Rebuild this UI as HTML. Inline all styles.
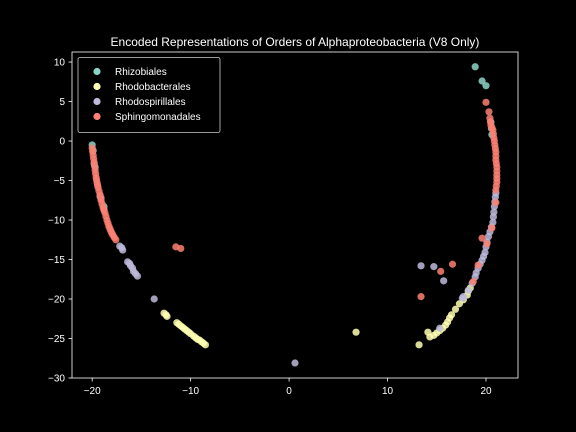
<!DOCTYPE html>
<html><head><meta charset="utf-8"><style>
body{margin:0;background:#000;}
svg{display:block;font-family:"Liberation Sans",sans-serif;}
</style></head><body>
<svg id="chart" width="576" height="432">
<rect width="576" height="432" fill="#000"/>
<text x="295" y="46" fill="#fff" font-size="12" text-anchor="middle">Encoded Representations of Orders of Alphaproteobacteria (V8 Only)</text>
<g id="marks"></g>
<rect x="72" y="52" width="446" height="326" fill="none" stroke="#fff" stroke-width="0.8"/>
<g id="axes"></g>
<g id="legend"></g>
</svg>
<script>
const xTicks=[-20,-10,0,10,20];
const yTicks=[10,5,0,-5,-10,-15,-20,-25,-30];
const seriesNames=["Rhizobiales","Rhodobacterales","Rhodospirillales","Sphingomonadales"];
const seriesColors=["#8dd3c7","#ffffb3","#bebada","#fb8072"];
const rhizoX=[-20,-19.9,-19.8,-19.7,-19.2,-18.8,18.9,19.6,20,20.5,20.6,20.55];
const rhizoY=[-0.5,-1.2,-2.9,-3.3,-7.0,-8.3,9.4,7.6,7.0,2.4,0.8,1.6];
const rhodobX=[-12.7,-12.5,-12.4,-11.4,-11.2,-11,-10.8,-10.6,-10.4,-10.2,-10.0,-9.7,-9.5,-9.3,-9.1,-8.9,-8.7,-8.5,6.8,18.4,18.2,18.1,17.7,17.3,16.9,16.5,16.3,16.1,15.9,15.6,15.3,15,14.7,14.3,14.1,13.2];
const rhodobY=[-21.8,-22.0,-22.2,-23.0,-23.2,-23.4,-23.6,-23.8,-24.0,-24.2,-24.4,-24.7,-24.9,-25.1,-25.2,-25.4,-25.6,-25.8,-24.2,-18.6,-19.0,-19.5,-20.1,-20.6,-21.3,-22,-22.4,-22.9,-23.3,-23.7,-24.0,-24.3,-24.6,-24.8,-24.2,-25.8];
const rhodosX=[-19.1,-18.8,-17.2,-17.0,-16.9,-16.4,-16.2,-16.1,-15.9,-15.8,-15.6,-15.4,-13.7,0.6,21,20.95,20.9,20.85,20.8,20.75,20.7,20.55,20.4,20.25,20.1,20.0,19.9,19.75,19.6,19.4,19.2,19.0,18.9,18.6,18.2,17.7,17.6,13.4,14.7,15.7,15.3];
const rhodosY=[-7.2,-8.7,-13.3,-13.5,-13.8,-15.3,-15.5,-15.8,-16.1,-16.5,-16.8,-17.1,-20,-28.1,-6.6,-7.1,-7.7,-8.3,-9,-9.6,-10.3,-10.9,-11.5,-12.1,-12.8,-13.4,-14.1,-14.6,-15.1,-15.6,-16.1,-16.7,-17.2,-18,-18.9,-19.7,-19.9,-15.8,-15.9,-17.7,-23.7];
const sphX=[-20.0,-19.95,-19.9,-19.85,-19.8,-19.75,-19.7,-19.65,-19.6,-19.55,-19.5,-19.45,-19.4,-19.3,-19.2,-19.15,-19.1,-19.0,-18.9,-18.8,-18.7,-18.6,-18.5,-18.4,-18.3,-18.2,-18.1,-18.0,-17.9,-17.75,-17.6,-11.5,-11,20,20.3,20.4,20.45,20.5,20.6,20.7,20.75,20.8,20.85,20.9,20.95,21,21,21,21.05,21.1,21.1,21.1,21.1,21.1,21.05,21,21,20.6,20.1,19.2,18.7,19.6,15.4,16.6,13.4];
const sphY=[-0.9,-1.35,-1.8,-2.25,-2.7,-3.2,-3.7,-4.15,-4.6,-4.95,-5.3,-5.6,-5.9,-6.35,-6.8,-7.15,-7.5,-7.95,-8.4,-8.75,-9.1,-9.55,-10,-10.4,-10.8,-11.1,-11.4,-11.65,-11.9,-12.2,-12.5,-13.4,-13.6,4.9,3.7,2.9,2.45,2.0,1.7,1.4,0.9,0.4,0,-0.5,-0.95,-1.4,-1.9,-2.4,-2.85,-3.3,-3.8,-4.3,-4.75,-5.2,-5.7,-6.2,-7.8,-11,-13,-15.7,-17.8,-12.3,-16.5,-15.6,-19.7];
const seriesX=[rhizoX,rhodobX,rhodosX,sphX];
const seriesY=[rhizoY,rhodobY,rhodosY,sphY];
const X0=72,X1=518,Y0=378,Y1=52,xmin=-22.05,xmax=23.25,ymin=-30,ymax=11.27;
const sx=v=>X0+(v-xmin)/(xmax-xmin)*(X1-X0);
const sy=v=>Y0-(v-ymin)/(ymax-ymin)*(Y0-Y1);
const NS="http://www.w3.org/2000/svg";
const marks=document.getElementById('marks');
seriesX.forEach((xs,s)=>{xs.forEach((x,i)=>{
 const c=document.createElementNS(NS,'circle');
 c.setAttribute('cx',sx(x));c.setAttribute('cy',sy(seriesY[s][i]));c.setAttribute('r',3.6);
 c.setAttribute('fill',seriesColors[s]);c.setAttribute('fill-opacity',0.85);
 
 
 marks.appendChild(c);});});
const axes=document.getElementById('axes');
xTicks.forEach(t=>{
 const l=document.createElementNS(NS,'line');l.setAttribute('x1',sx(t));l.setAttribute('x2',sx(t));l.setAttribute('y1',378);l.setAttribute('y2',381.5);l.setAttribute('stroke','#fff');l.setAttribute('stroke-width',0.8);
 
 
 axes.appendChild(l);
 const tx=document.createElementNS(NS,'text');tx.setAttribute('x',sx(t));tx.setAttribute('y',394);tx.setAttribute('fill','#fff');tx.setAttribute('font-size','10');tx.setAttribute('text-anchor','middle');tx.textContent=t<0?'\u2212'+(-t):t;
 
 
 axes.appendChild(tx);});
yTicks.forEach(t=>{
 const l=document.createElementNS(NS,'line');l.setAttribute('x1',68.5);l.setAttribute('x2',72);l.setAttribute('y1',sy(t));l.setAttribute('y2',sy(t));l.setAttribute('stroke','#fff');l.setAttribute('stroke-width',0.8);
 
 
 axes.appendChild(l);
 const tx=document.createElementNS(NS,'text');tx.setAttribute('x',65);tx.setAttribute('y',sy(t)+3.5);tx.setAttribute('fill','#fff');tx.setAttribute('font-size','10');tx.setAttribute('text-anchor','end');tx.textContent=t<0?'\u2212'+(-t):t;
 
 
 axes.appendChild(tx);});
const lg=document.getElementById('legend');
const box=document.createElementNS(NS,'rect');box.setAttribute('x',78);box.setAttribute('y',57.5);box.setAttribute('width',142);box.setAttribute('height',75);box.setAttribute('rx',2);box.setAttribute('fill','#000');box.setAttribute('stroke','#ccc');box.setAttribute('stroke-width',0.8);


lg.appendChild(box);
seriesNames.forEach((n,i)=>{
 const y=71.5+i*15;
 const c=document.createElementNS(NS,'circle');c.setAttribute('cx',97);c.setAttribute('cy',y);c.setAttribute('r',3.6);c.setAttribute('fill',seriesColors[i]);
 
 
 lg.appendChild(c);
 const t=document.createElementNS(NS,'text');t.setAttribute('x',115);t.setAttribute('y',y+3.5);t.setAttribute('fill','#fff');t.setAttribute('font-size','10');t.textContent=n;
 
 
 lg.appendChild(t);});
</script>
</body></html>
